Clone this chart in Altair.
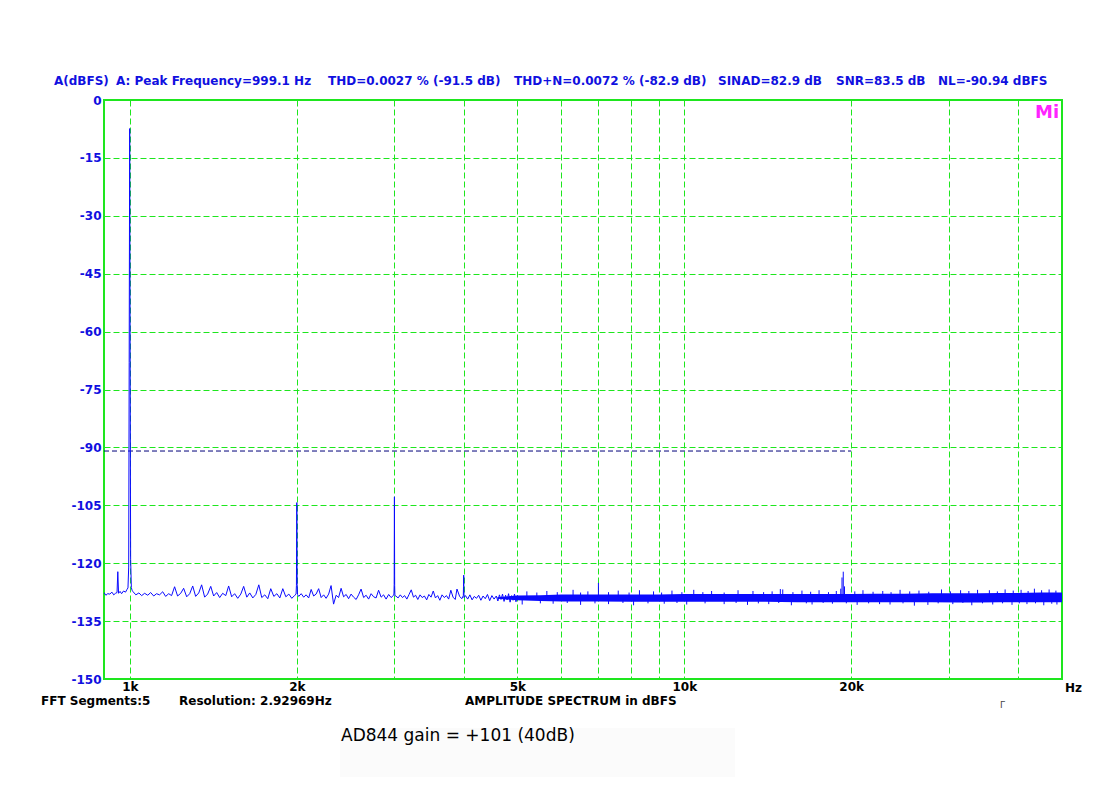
import altair as alt
import pandas as pd

# ---------------- data ----------------
# FFT trace, 898 Hz .. 5 kHz (Hz, dBFS)
low_hz = [
    898, 905, 912, 920, 928, 935, 942, 948, 951, 954,
    960, 966, 974, 982, 988, 992, 995, 997, 999.1, 1001,
    1003, 1006, 1009,
    1012, 1025, 1038, 1050, 1063, 1077, 1090, 1104, 1117, 1131,
    1146, 1160, 1175, 1189, 1204, 1219, 1235, 1250, 1266, 1282,
    1298, 1314, 1331, 1347, 1364, 1381, 1399, 1416, 1434, 1452,
    1470, 1489, 1507, 1526, 1545, 1565, 1585, 1604, 1625, 1645,
    1666, 1687, 1708, 1729, 1751, 1773, 1795, 1818, 1841, 1864,
    1887, 1911, 1935, 1959, 1984, 1994, 1997, 2000, 2003, 2006,
    2016, 2037, 2058, 2079, 2101, 2123, 2145, 2167, 2190, 2213,
    2236, 2259, 2283, 2306, 2330, 2355, 2379, 2404, 2429, 2455,
    2480, 2506, 2532, 2559, 2585, 2612, 2640, 2667, 2695, 2723,
    2752, 2780, 2809, 2839, 2868, 2898, 2929, 2959, 2990, 2994,
    2997, 3000, 3003, 3006, 3018, 3046, 3074, 3102, 3130, 3159,
    3188, 3217, 3247, 3276, 3306, 3337, 3367, 3398, 3430, 3461,
    3493, 3525, 3557, 3590, 3623, 3656, 3690, 3724, 3758, 3792,
    3827, 3862, 3890, 3933, 3969, 3994, 3997, 4000, 4003, 4006,
    4030, 4067, 4104, 4142, 4180, 4218, 4257, 4296, 4335, 4375,
    4415, 4456, 4497, 4538, 4580, 4610, 4640, 4670, 4700, 4730,
    4760, 4790, 4820, 4850, 4880, 4910, 4940, 4970, 5000,
]
low_db = [
    -127.6, -128.3, -127.9, -128.0, -127.5, -128.2, -127.8, -127.6, -122.2, -127.8,
    -127.3, -127.9, -127.2, -127.5, -126.8, -126.4, -121.0, -68.0, -7.4, -66.0,
    -119.0, -126.3, -127.0,
    -127.3, -128.2, -127.7, -128.4, -127.8, -128.3, -127.6, -128.5, -127.9, -128.2,
    -127.4, -128.6, -127.9, -128.4, -126.1, -128.5, -127.8, -126.5, -128.7, -127.9,
    -125.9, -128.6, -127.7, -125.6, -128.8, -128.0, -126.0, -128.5, -127.6, -128.9,
    -127.8, -128.4, -125.9, -128.7, -127.9, -129.1, -128.0, -126.0, -128.8, -127.7,
    -129.0, -128.1, -125.6, -128.9, -128.2, -129.2, -126.6, -128.6, -127.9, -129.0,
    -126.6, -128.7, -128.0, -129.1, -128.3, -128.0, -125.8, -104.3, -125.5, -128.1,
    -128.6, -127.9, -128.8, -128.2, -129.0, -126.8, -128.5, -128.0, -126.6, -128.9,
    -128.2, -129.1, -128.0, -125.8, -130.6, -128.3, -128.9, -126.5, -128.7, -128.1,
    -129.2, -128.0, -128.8, -129.4, -128.2, -126.7, -128.9, -128.3, -129.3, -127.9,
    -128.7, -129.0, -127.0, -128.8, -128.2, -129.3, -128.1, -128.9, -128.3, -128.0,
    -125.5, -102.8, -125.8, -128.4, -128.5, -129.0, -128.2, -128.9, -128.4, -129.3,
    -128.1, -126.9, -128.8, -128.3, -129.4, -128.2, -128.9, -128.5, -129.5, -128.1,
    -128.8, -127.2, -129.0, -128.4, -129.6, -128.2, -128.9, -128.4, -129.3, -127.0,
    -128.8, -129.4, -126.7, -128.6, -129.2, -128.4, -126.0, -123.1, -126.5, -128.9,
    -128.4, -129.3, -128.2, -129.5, -128.6, -129.1, -128.3, -129.6, -128.5, -129.2,
    -128.1, -129.7, -128.4, -129.3, -128.5, -129.8, -128.2, -129.4, -128.0, -129.9,
    -128.3, -129.5, -127.9, -130.1, -128.4, -129.6, -128.0, -130.0, -128.3,
]

# dense noise band above 4.6 kHz: upper / lower envelope of the solid core
band_hz = [4600, 5000, 5500, 6000, 7000, 8000, 9000, 10000, 12000, 14000, 16000,
           18000, 20000, 22000, 25000, 28000, 31000, 34000, 37000, 40000, 44000, 48000]
band_top = [-128.8, -128.4, -128.3, -128.1, -128.1, -128.1, -128.1, -128.0, -128.0, -128.0, -128.0,
            -128.0, -128.0, -127.9, -127.9, -127.8, -127.8, -127.8, -127.7, -127.7, -127.6, -127.6]
band_bot = [-129.2, -129.6, -129.8, -129.9, -129.9, -130.0, -130.0, -130.0, -130.0, -130.0, -130.1,
            -130.1, -130.1, -130.1, -130.1, -130.1, -130.2, -130.2, -130.1, -130.1, -130.1, -130.1]

# spikes sticking up out of the band
up_hz = [5200, 5420, 5650, 5900, 6300, 6500, 6700, 7000, 7300, 7600, 7950, 8300, 8800, 9100, 9500,
         9900, 10400, 10800, 11200, 11800, 12500, 13300, 13900, 14400, 14900, 15050, 15700, 16300,
         16900, 17500, 18200, 18800, 19150, 19250, 19350, 19450, 20300, 21000, 21900, 22800, 23600,
         24500, 25500, 26500, 27600, 29100, 30200, 31500, 32600, 33800, 35500, 36700, 37900, 39200,
         40500, 41700, 42800, 44100, 45500, 46800]
up_db = [-127.3, -127.6, -127.2, -127.5, -126.9, -127.6, -127.3, -125.1, -127.5, -127.1, -127.6, -127.0,
         -127.3, -127.6, -127.1, -127.5, -126.9, -127.5, -127.2, -127.6, -127.0, -127.2, -127.5, -127.3,
         -126.7, -126.8, -127.5, -127.1, -127.4, -127.0, -127.5, -127.2, -126.6, -123.7, -122.2, -126.0,
         -127.3, -127.0, -127.4, -127.2, -127.5, -126.9, -127.3, -127.1, -127.4, -126.8, -127.3, -127.0,
         -127.2, -126.9, -127.0, -127.3, -126.8, -127.1, -126.9, -127.2, -126.6, -127.0, -126.8, -127.1]
# dips reaching below the band
dip_hz = [5100, 5500, 5800, 6150, 6500, 6900, 7300, 7750, 8100, 8600, 9200, 9700, 10100, 10900,
          11800, 12400, 13000, 13600, 14200, 14800, 15600, 16600, 17000, 17800, 18500, 19600, 20500,
          21500, 22500, 23500, 24800, 26000, 27500, 28700, 30500, 31800, 33000, 34500, 36000, 37500,
          39000, 40200, 41500, 43000, 44500, 46000, 47000]
dip_db = [-130.7, -130.4, -130.5, -130.3, -130.8, -130.4, -130.6, -130.3, -130.9, -130.4, -130.5, -130.3,
          -130.7, -130.4, -130.6, -130.3, -130.8, -130.4, -130.6, -130.3, -130.9, -130.4, -130.7, -130.3,
          -130.5, -130.4, -130.8, -130.4, -130.6, -130.7, -130.4, -131.0, -130.8, -130.4, -130.6, -130.3,
          -130.9, -130.4, -130.7, -130.4, -130.8, -130.4, -130.6, -130.4, -130.9, -130.5, -130.7]

# noise level marker (NL=-90.94 dBFS) drawn up to 20 kHz
nl_db = [-90.94]
nl_from_hz = [898]
nl_to_hz = [20000]

x_domain = [898, 48000]
y_domain = [-150, 0]
grid_hz = [1000, 2000, 3000, 4000, 5000, 6000, 7000, 8000, 9000, 10000, 20000, 30000, 40000]
label_hz = [1000, 2000, 5000, 10000, 20000]
db_ticks = [-150, -135, -120, -105, -90, -75, -60, -45, -30, -15, 0]

title_parts = ["A(dBFS)", "A: Peak Frequency=999.1 Hz", "THD=0.0027 % (-91.5 dB)",
               "THD+N=0.0072 % (-82.9 dB)", "SINAD=82.9 dB", "SNR=83.5 dB", "NL=-90.94 dBFS"]

# ---------------- styling ----------------
GREEN = "#1ee61e"
BLUE = "#0a0aff"
TXT_BLUE = "#1010e0"
FONT = "DejaVu Sans"

assert len(low_hz) == len(low_db)
assert len(band_hz) == len(band_top) == len(band_bot)
assert len(up_hz) == len(up_db) and len(dip_hz) == len(dip_db)

label_list = ",".join(str(v) for v in label_hz)
x_axis = alt.Axis(
    values=grid_hz,
    labelExpr=f"indexof([{label_list}], datum.value) >= 0 ? (datum.value/1000) + 'k' : ''",
    grid=True, gridColor=GREEN, gridDash=[6, 3], gridWidth=1,
    ticks=False, tickSize=0, domain=False,
    labelFont=FONT, labelFontWeight="bold", labelFontSize=12, labelColor="black",
    labelPadding=2, labelFlush=False, labelOverlap=False, labelBound=False, title=None,
)
y_axis = alt.Axis(
    values=db_ticks,
    labelExpr="'' + datum.value",
    grid=True, gridColor=GREEN, gridDash=[6, 3], gridWidth=1,
    ticks=False, tickSize=0, domain=False,
    labelFont=FONT, labelFontWeight="bold", labelFontSize=12, labelColor=TXT_BLUE,
    labelPadding=3, labelFlush=False, labelOverlap=False, title=None,
)
x_scale = alt.Scale(type="log", domain=x_domain, nice=False)
y_scale = alt.Scale(domain=y_domain, nice=False, zero=False)

X = alt.X("hz:Q", scale=x_scale, axis=x_axis)
Y = alt.Y("db:Q", scale=y_scale, axis=y_axis)

trace_df = pd.DataFrame({"hz": low_hz, "db": low_db})
band_df = pd.DataFrame({"hz": band_hz, "db": band_top, "db2": band_bot})
up_df = pd.DataFrame({"hz": up_hz, "db": up_db, "db2": [-128.6] * len(up_hz)})
dip_df = pd.DataFrame({"hz": dip_hz, "db": dip_db, "db2": [-129.4] * len(dip_hz)})
nl_df = pd.DataFrame({"hz": nl_from_hz, "hz2": nl_to_hz, "db": nl_db})

nl_rule = alt.Chart(nl_df).mark_rule(color="#00007a", strokeDash=[5, 3], strokeWidth=1).encode(
    x=X, x2="hz2:Q", y=Y)
band = alt.Chart(band_df).mark_area(color=BLUE, opacity=1, clip=True).encode(x=X, y=Y, y2="db2:Q")
ups = alt.Chart(up_df).mark_rule(color=BLUE, strokeWidth=1, clip=True).encode(x=X, y=Y, y2="db2:Q")
dips = alt.Chart(dip_df).mark_rule(color=BLUE, strokeWidth=1, clip=True).encode(x=X, y=Y, y2="db2:Q")
trace = alt.Chart(trace_df).mark_line(color=BLUE, strokeWidth=1, clip=True).encode(x=X, y=Y)


def txt(s, x, y, size=12, color="black", weight="bold", font=FONT, align="left"):
    return alt.Chart(pd.DataFrame({"k": [0]})).mark_text(
        align=align, baseline="alphabetic", fontSize=size, font=font,
        fontWeight=weight, color=color,
    ).encode(x=alt.value(x), y=alt.value(y), text=alt.value(s))


# positions relative to plot origin (plot area starts at page x=104, y=100)
title_x = [-50, 12, 224, 410, 614, 732, 834]
texts = [txt(s, xx, -15, color=TXT_BLUE) for s, xx in zip(title_parts, title_x)]
texts += [
    txt("Hz", 961, 592),
    txt("FFT Segments:5", -63, 605),
    txt("Resolution: 2.92969Hz", 75, 605),
    txt("AMPLITUDE SPECTRUM in dBFS", 361, 605),
    txt("\u0393", 896, 608, size=9, color="#444444", weight="normal"),
    txt("Mi", 931, 18, size=18, color="#ff22ff"),
    txt("AD844 gain = +101 (40dB)", 237, 641, size=17, weight="normal"),
]

bg_box = alt.Chart(pd.DataFrame({"k": [0]})).mark_rect(color="#fbfbfb").encode(
    x=alt.value(236), x2=alt.value(631), y=alt.value(628), y2=alt.value(677))

chart = alt.layer(
    bg_box, nl_rule, band, ups, dips, trace, *texts
).properties(
    width=958, height=579,
    autosize=alt.AutoSizeParams(type="none"),
    padding={"left": 96, "top": 92, "right": 40, "bottom": 100},
    background="white",
).configure_view(stroke=GREEN, strokeWidth=2)

chart.save("out.html", embed_options={"renderer": "svg", "actions": False})
